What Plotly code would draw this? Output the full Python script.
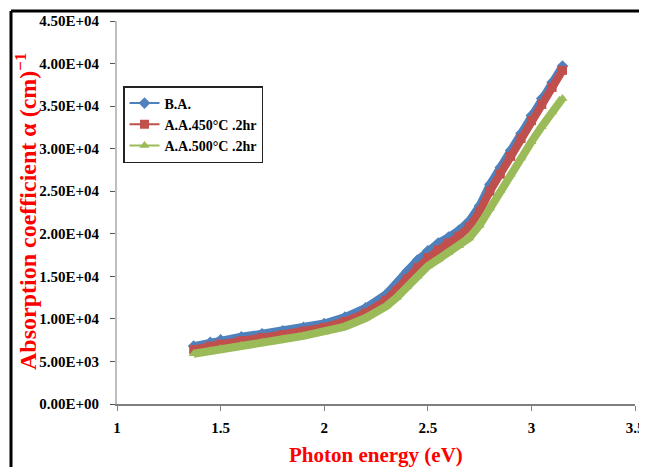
import plotly.graph_objects as go

# ---- data ----
energy = [1.37, 1.45, 1.5, 1.6, 1.7, 1.8, 1.9, 2.0, 2.1, 2.2, 2.3, 2.35, 2.4, 2.45,
          2.5, 2.55, 2.6, 2.65, 2.7, 2.75, 2.8, 2.85, 2.9, 2.95, 3.0, 3.05, 3.1, 3.15]
alpha_ba = [6800, 7250, 7550, 7900, 8250, 8600, 9000, 9450, 10200, 11300, 12900, 14100,
            15600, 16900, 18000, 18900, 19600, 20400, 21500, 23300, 25800, 27800, 29800,
            31800, 33900, 35900, 37800, 39700]
alpha_450 = [6400, 6800, 7050, 7450, 7800, 8150, 8550, 9000, 9700, 10700, 12200, 13300,
             14700, 16000, 17200, 18100, 18900, 19700, 20800, 22600, 25000, 27000, 29100,
             31200, 33300, 35200, 37200, 39200]
alpha_500 = [5900, 6250, 6500, 6900, 7250, 7600, 8000, 8450, 9100, 10100, 11500, 12500,
             13800, 15000, 16200, 17000, 17800, 18600, 19500, 21000, 23000, 25100, 27000,
             28900, 30800, 32600, 34300, 35900]

series_names = ["B.A.", "A.A.450°C .2hr", "A.A.500°C .2hr"]
y_tick_vals = [0, 5000, 10000, 15000, 20000, 25000, 30000, 35000, 40000, 45000]
y_tick_text = ["0.00E+00", "5.00E+03", "1.00E+04", "1.50E+04", "2.00E+04",
               "2.50E+04", "3.00E+04", "3.50E+04", "4.00E+04", "4.50E+04"]
x_tick_vals = [1, 1.5, 2, 2.5, 3, 3.5]
x_tick_text = ["1", "1.5", "2", "2.5", "3", "3.5"]

# ---- styling ----
colors = ["#4F81BD", "#C0504D", "#9BBB59"]
symbols = ["diamond", "square", "triangle-up"]
serif = "Liberation Serif, Times New Roman, serif"

fig = go.Figure()
for name, ys, c, s in zip(series_names, [alpha_ba, alpha_450, alpha_500], colors, symbols):
    fig.add_trace(go.Scatter(x=energy, y=ys, mode="lines", line=dict(color=c, width=8),
                             showlegend=False, legendgroup=name, hoverinfo="skip"))
    fig.add_trace(go.Scatter(x=energy, y=ys, mode="lines+markers", name=name,
                             legendgroup=name, line=dict(color=c, width=2),
                             marker=dict(symbol=s, size=9, color=c)))

# page body has an 8px margin: figure is placed at (8, 8) in the window
OFF = 8
W, H = 647 - OFF, 467 - OFF
# plot area in reference (window) pixels
PX0, PX1, PY0, PY1 = 117, 635, 21, 404
L, R, T, B = PX0 - OFF, W - (PX1 - OFF), PY0 - OFF, H - (PY1 - OFF)
pw, ph = PX1 - PX0, PY1 - PY0

def px_x(p):
    return (p - PX0) / pw

def px_y(p):
    return (PY1 - p) / ph

fig.update_layout(
    width=W, height=H,
    margin=dict(l=L, r=R, t=T, b=B, autoexpand=False),
    paper_bgcolor="white", plot_bgcolor="white",
    font=dict(family=serif, size=15, color="black", weight="bold"),
    showlegend=True,
    legend=dict(x=px_x(123), y=px_y(86), xanchor="left", yanchor="top",
                bgcolor="white", bordercolor="#222222", borderwidth=1.5,
                font=dict(family=serif, size=14, color="black", weight="bold"),
                tracegroupgap=0, itemwidth=30),
    xaxis=dict(range=[1, 3.5], tickvals=x_tick_vals, ticktext=x_tick_text,
               automargin=False,
               showgrid=False, zeroline=False, showline=True,
               linecolor="#7F7F7F", linewidth=1.5, ticks="outside", ticklen=5,
               tickcolor="#7F7F7F", ticklabelstandoff=4,
               tickfont=dict(family=serif, size=15, color="black", weight="bold")),
    yaxis=dict(range=[0, 45000], tickvals=y_tick_vals, ticktext=y_tick_text,
               automargin=False,
               showgrid=False, zeroline=False, showline=True,
               linecolor="#BFBFBF", linewidth=2, ticks="outside", ticklen=5,
               tickcolor="#555555", ticklabelstandoff=8,
               tickfont=dict(family=serif, size=15, color="black", weight="bold")),
    annotations=[
        dict(text="Photon energy (eV)", xref="paper", yref="paper",
             x=px_x(376), y=px_y(455), xanchor="center", yanchor="middle",
             showarrow=False,
             font=dict(family=serif, size=21, color="red", weight="bold")),
        dict(text="Absorption coefficient α (cm)<sup>−1</sup>", xref="paper", yref="paper",
             x=px_x(26), y=px_y(212), xanchor="center", yanchor="middle",
             textangle=-90, showarrow=False,
             font=dict(family=serif, size=24, color="red", weight="bold")),
    ],
    shapes=[
        dict(type="line", xref="paper", yref="paper",
             x0=px_x(11), x1=px_x(11), y0=px_y(11), y1=px_y(470),
             line=dict(color="black", width=3)),
        dict(type="line", xref="paper", yref="paper",
             x0=px_x(11), x1=px_x(650), y0=px_y(11), y1=px_y(11),
             line=dict(color="black", width=3)),
        dict(type="line", xref="paper", yref="paper",
             x0=px_x(642), x1=px_x(642), y0=px_y(11), y1=px_y(470),
             line=dict(color="#BBBBBB", width=1)),
    ],
)

fig.write_html("out.html")
